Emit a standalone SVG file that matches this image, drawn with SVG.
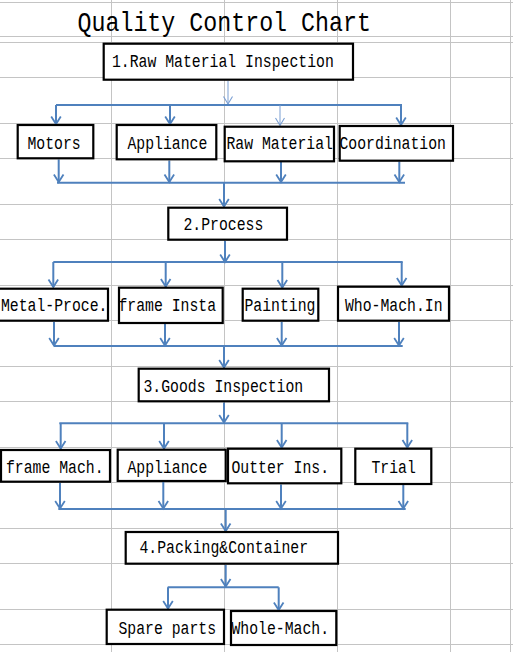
<svg xmlns="http://www.w3.org/2000/svg" width="513" height="652" viewBox="0 0 513 652">
<style>
.grid line{stroke:#c4c4c4;stroke-width:1}
.box{fill:#fff;stroke:#000;stroke-width:2.2}
.t{font-family:"Liberation Mono","DejaVu Sans Mono",monospace;font-size:14.8px;fill:#000}
.title{font-family:"Liberation Mono","DejaVu Sans Mono",monospace;font-size:23.3px;fill:#000}
.c{fill:none;stroke:#4f81bd;stroke-width:2}
.a{fill:none;stroke:#4f81bd;stroke-width:2;marker-end:url(#ah)}
.ta{fill:none;stroke:#7a9fd3;stroke-width:1;marker-end:url(#ahl)}
</style>
<defs>
<marker id="ah" markerUnits="userSpaceOnUse" markerWidth="14" markerHeight="14" viewBox="-10 -7 14 14" refX="0" refY="0" orient="auto">
<path d="M-7.5,-4.8 L0,0 L-7.5,4.8" fill="none" stroke="#4f81bd" stroke-width="1.8"/>
</marker>
<marker id="ahl" markerUnits="userSpaceOnUse" markerWidth="14" markerHeight="14" viewBox="-10 -7 14 14" refX="0" refY="0" orient="auto">
<path d="M-7.5,-4.5 L0,0 L-7.5,4.5" fill="none" stroke="#7a9fd3" stroke-width="1.1"/>
</marker>
</defs>
<rect width="513" height="652" fill="#fff"/>
<g class="grid">
<line x1="0" y1="2.5" x2="513" y2="2.5"/>
<line x1="0" y1="36.5" x2="513" y2="36.5"/>
<line x1="0" y1="42.5" x2="513" y2="42.5"/>
<line x1="0" y1="77.5" x2="513" y2="77.5"/>
<line x1="0" y1="123.5" x2="513" y2="123.5"/>
<line x1="0" y1="158.5" x2="513" y2="158.5"/>
<line x1="0" y1="204.5" x2="513" y2="204.5"/>
<line x1="0" y1="239.5" x2="513" y2="239.5"/>
<line x1="0" y1="285.5" x2="513" y2="285.5"/>
<line x1="0" y1="320.5" x2="513" y2="320.5"/>
<line x1="0" y1="366.5" x2="513" y2="366.5"/>
<line x1="0" y1="401.5" x2="513" y2="401.5"/>
<line x1="0" y1="447.5" x2="513" y2="447.5"/>
<line x1="0" y1="482.5" x2="513" y2="482.5"/>
<line x1="0" y1="528.5" x2="513" y2="528.5"/>
<line x1="0" y1="563.5" x2="513" y2="563.5"/>
<line x1="0" y1="609.5" x2="513" y2="609.5"/>
<line x1="0" y1="644.5" x2="513" y2="644.5"/>
<line x1="111.5" y1="0" x2="111.5" y2="652"/>
<line x1="224.5" y1="0" x2="224.5" y2="652"/>
<line x1="337.5" y1="0" x2="337.5" y2="652"/>
<line x1="450.5" y1="0" x2="450.5" y2="652"/>
<line x1="510.5" y1="0" x2="510.5" y2="652"/>
</g>
<text class="title" x="77.5" y="26.96" transform="scale(1,1.15)">Quality Control Chart</text>
<g id="connectors">
<path class="ta" d="M228,81 V104"/>
<path class="c" d="M56,105 H402"/>
<path class="a" d="M56,105 V124"/>
<path class="a" d="M170,105 V124"/>
<path class="ta" d="M280,105 V125.5"/>
<path class="a" d="M401,105 V125"/>
<path class="a" d="M58.7,159.5 V182"/>
<path class="a" d="M169.3,160.5 V182"/>
<path class="a" d="M281,162 V182"/>
<path class="a" d="M399.3,161.5 V182"/>
<path class="c" d="M57,182.7 H405"/>
<path class="a" d="M224,182.7 V206.5"/>
<path class="a" d="M225,241 V262"/>
<path class="c" d="M53.3,262 H402.7"/>
<path class="a" d="M53.3,262 V287"/>
<path class="a" d="M165.7,262 V286.5"/>
<path class="a" d="M282.3,262 V287.5"/>
<path class="a" d="M401.7,262 V285.5"/>
<path class="a" d="M54,322 V345.5"/>
<path class="a" d="M165,324 V345.5"/>
<path class="a" d="M281.7,322 V345.5"/>
<path class="a" d="M399,322 V345.5"/>
<path class="c" d="M54,346 H402.7"/>
<path class="a" d="M224,346 V367.5"/>
<path class="a" d="M224,402.5 V422.5"/>
<path class="c" d="M59.3,423.3 H408.3"/>
<path class="a" d="M60.7,423.3 V448.5"/>
<path class="a" d="M164,423.3 V448.5"/>
<path class="a" d="M281.7,423.3 V447.5"/>
<path class="a" d="M407.3,423.3 V447.5"/>
<path class="a" d="M60,483 V508.5"/>
<path class="a" d="M163.3,482 V508.5"/>
<path class="a" d="M281,484.5 V508.5"/>
<path class="a" d="M403.3,485 V508.5"/>
<path class="c" d="M58.3,509 H405.7"/>
<path class="a" d="M225.7,509 V531"/>
<path class="a" d="M225.7,565 V586.5"/>
<path class="c" d="M167.7,587.3 H278.7"/>
<path class="a" d="M168,587.3 V608.5"/>
<path class="a" d="M278.7,587.3 V610"/>
</g>
<g id="n1"><rect class="box" x="103.7" y="43.7" width="249.3" height="36"/><text class="t" x="112" y="56.25" transform="scale(1,1.2)">1.Raw Material Inspection</text></g>
<g id="motors"><rect class="box" x="17.7" y="125" width="75.6" height="33.3"/><text class="t" x="27.5" y="124.17" transform="scale(1,1.2)">Motors</text></g>
<g id="appliance1"><rect class="box" x="116.7" y="125" width="99.6" height="34.3"/><text class="t" x="127.5" y="124.17" transform="scale(1,1.2)">Appliance</text></g>
<g id="rawmaterial"><rect class="box" x="224.7" y="126.7" width="109.3" height="34.6"/><text class="t" x="226.5" y="124.17" transform="scale(1,1.2)">Raw Material</text></g>
<g id="coordination"><rect class="box" x="339.7" y="126" width="113.3" height="34.7"/><text class="t" x="339.5" y="124.17" transform="scale(1,1.2)">Coordination</text></g>
<g id="n2"><rect class="box" x="168.3" y="207.7" width="118.7" height="32"/><text class="t" x="183.5" y="191.67" transform="scale(1,1.2)">2.Process</text></g>
<g id="metal"><rect class="box" x="-5" y="288.7" width="113" height="32"/><text class="t" x="1" y="258.92" transform="scale(1,1.2)">Metal-Proce.</text></g>
<g id="frameinsta"><rect class="box" x="119" y="287.7" width="103.7" height="35.3"/><text class="t" x="118.5" y="258.92" transform="scale(1,1.2)">frame Insta</text></g>
<g id="painting"><rect class="box" x="242.7" y="288.7" width="75.6" height="32"/><text class="t" x="244.5" y="258.92" transform="scale(1,1.2)">Painting</text></g>
<g id="whomach"><rect class="box" x="338" y="286.7" width="111" height="34"/><text class="t" x="345" y="258.92" transform="scale(1,1.2)">Who-Mach.In</text></g>
<g id="n3"><rect class="box" x="138.7" y="368.7" width="190.3" height="32.6"/><text class="t" x="143.5" y="326.42" transform="scale(1,1.2)">3.Goods Inspection</text></g>
<g id="framemach"><rect class="box" x="1" y="450" width="109" height="31.7"/><text class="t" x="6" y="394.42" transform="scale(1,1.2)">frame Mach.</text></g>
<g id="appliance2"><rect class="box" x="117.7" y="449.7" width="108" height="31.3"/><text class="t" x="127.5" y="394.42" transform="scale(1,1.2)">Appliance</text></g>
<g id="outter"><rect class="box" x="228" y="448.7" width="113.3" height="34.6"/><text class="t" x="231.5" y="394.42" transform="scale(1,1.2)">Outter Ins.</text></g>
<g id="trial"><rect class="box" x="355.3" y="448.7" width="76" height="35.3"/><text class="t" x="371.5" y="394.42" transform="scale(1,1.2)">Trial</text></g>
<g id="n4"><rect class="box" x="125.7" y="532" width="212.3" height="31.7"/><text class="t" x="139.5" y="461.08" transform="scale(1,1.2)">4.Packing&amp;Container</text></g>
<g id="spare"><rect class="box" x="106.7" y="609.7" width="117.3" height="34.3"/><text class="t" x="118.5" y="528.75" transform="scale(1,1.2)">Spare parts</text></g>
<g id="whole"><rect class="box" x="231" y="611" width="105.3" height="34"/><text class="t" x="231.5" y="528.75" transform="scale(1,1.2)">Whole-Mach.</text></g>
</svg>
